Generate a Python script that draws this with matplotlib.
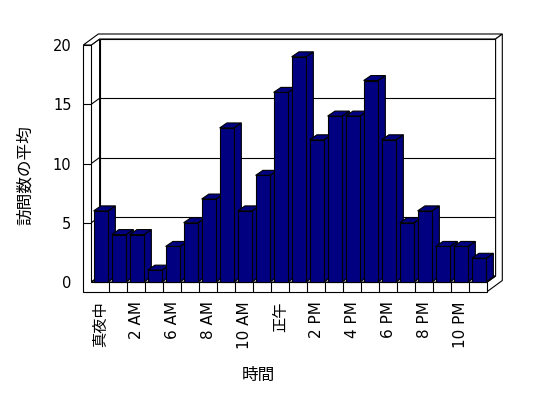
import matplotlib
matplotlib.use('Agg')
import matplotlib.pyplot as plt
from matplotlib.patches import Polygon

plt.rcParams['font.family'] = ['DejaVu Sans', 'Noto Sans CJK JP']

# ---- data ----
hours = ['真夜中', '1 AM', '2 AM', '3 AM', '6 AM', '7 AM', '8 AM', '9 AM', '10 AM', '11 AM',
         '正午', '1 PM', '2 PM', '3 PM', '4 PM', '5 PM', '6 PM', '7 PM', '8 PM', '9 PM',
         '10 PM', '11 PM']
visits = [6, 4, 4, 1, 3, 5, 7, 13, 6, 9, 16, 19, 12, 14, 14, 17, 12, 5, 6, 3, 3, 2]
yticks = [0, 5, 10, 15, 20]
xlabel = '時間'
ylabel = '訪問数の平均'

# ---- figure / axes (front plane of the 3D box) ----
W, H = 548, 398
fig = plt.figure(figsize=(W / 100, H / 100), dpi=100)
left_px, right_px, top_px, base_px = 91.3, 487.3, 45.0, 282.0
ax = fig.add_axes([left_px / W, (H - base_px) / H,
                   (right_px - left_px) / W, (base_px - top_px) / H])
n = len(hours)
ymax = yticks[-1]
ax.set_xlim(0, n)
ax.set_ylim(0, ymax)
for s in ax.spines.values():
    s.set_visible(False)
ax.patch.set_visible(False)

pxx = n / (right_px - left_px)       # data units per pixel (x)
pxy = ymax / (base_px - top_px)      # data units per pixel (y)

DB = (7.3 * pxx, 5.0 * pxy)    # bar depth
DW = (8.3 * pxx, 6.0 * pxy)    # back wall depth
TW = (6.7 * pxx, 5.0 * pxy)    # wall thickness
LW = 8.0 * pxx                 # left wall thickness
FT = 9.5 * pxy                 # floor thickness

lw = 0.8
k = dict(clip_on=False, edgecolor='black', linewidth=lw)

def poly(pts, z, fc='white'):
    ax.add_patch(Polygon(pts, closed=True, facecolor=fc, zorder=z, joinstyle='miter', **k))

def line(xs, ys, z):
    ax.plot(xs, ys, color='black', lw=lw, zorder=z, clip_on=False, solid_capstyle='butt')

# back wall inner face
poly([(DW[0], DW[1]), (n + DW[0], DW[1]), (n + DW[0], ymax + DW[1]), (DW[0], ymax + DW[1])], 1)
for v in yticks[1:-1]:
    line([DW[0], n + DW[0]], [v + DW[1], v + DW[1]], 1.5)
# left wall inner face
poly([(0, 0), (DW[0], DW[1]), (DW[0], ymax + DW[1]), (0, ymax)], 2)
for v in yticks[1:-1]:
    line([0, DW[0]], [v, v + DW[1]], 2.5)
# top strip (left wall top + back wall top)
poly([(-LW, ymax), (-LW + DW[0] + TW[0], ymax + DW[1] + TW[1]),
      (n + DW[0] + TW[0], ymax + DW[1] + TW[1]), (n + DW[0], ymax + DW[1]),
      (DW[0], ymax + DW[1]), (0, ymax)], 2)
# right side (back wall edge + floor side)
poly([(n, 0), (n, -FT), (n + DW[0] + TW[0], -FT + DW[1] + TW[1]),
      (n + DW[0] + TW[0], ymax + DW[1] + TW[1]), (n + DW[0], ymax + DW[1]),
      (n + DW[0], DW[1])], 2)
# floor top
poly([(0, 0), (n, 0), (n + DW[0], DW[1]), (DW[0], DW[1])], 2)
# left wall front + floor front
poly([(-LW, ymax), (0, ymax), (0, 0), (n, 0), (n, -FT), (-LW, -FT)], 3)
for v in yticks[1:-1]:
    line([-LW, 0], [v, v], 3.5)
for i in range(1, n):
    line([i, i], [0, -FT], 3.5)

# ---- bars ----
bw = 0.8
xc = [i + 0.53 for i in range(n)]
bars = ax.bar(xc, visits, width=bw, color='#000080', edgecolor='black', linewidth=lw,
              clip_on=False)
for i, (p, v) in enumerate(zip(bars, visits)):
    z = 10 + i
    p.set_zorder(z + 0.5)
    xl = p.get_x()
    xr = xl + p.get_width()
    poly([(xr, 0), (xr + DB[0], DB[1]), (xr + DB[0], v + DB[1]), (xr, v)], z, fc='#000080')
    poly([(xl, v), (xr, v), (xr + DB[0], v + DB[1]), (xl + DB[0], v + DB[1])], z, fc='#000080')

# ---- ticks and labels ----
ax.set_yticks(yticks)
ax.set_yticklabels([str(v) for v in yticks], fontsize=10.5)
ax.tick_params(axis='y', length=0, pad=14.3)
ax.set_xticks([i + 0.5 for i in range(0, n, 2)])
ax.set_xticklabels(hours[::2], rotation=90, fontsize=11, va='top', ha='center')
ax.tick_params(axis='x', length=0, pad=13.7)

fig.text(25.5 / W, 1 - 175 / H, ylabel, rotation=90, ha='center', va='center',
         fontsize=12, family=['Noto Sans CJK JP'])
fig.text(258 / W, 1 - 375 / H, xlabel, ha='center', va='center',
         fontsize=12, family=['Noto Sans CJK JP'])

fig.savefig('out.png', dpi=100, facecolor='white')
